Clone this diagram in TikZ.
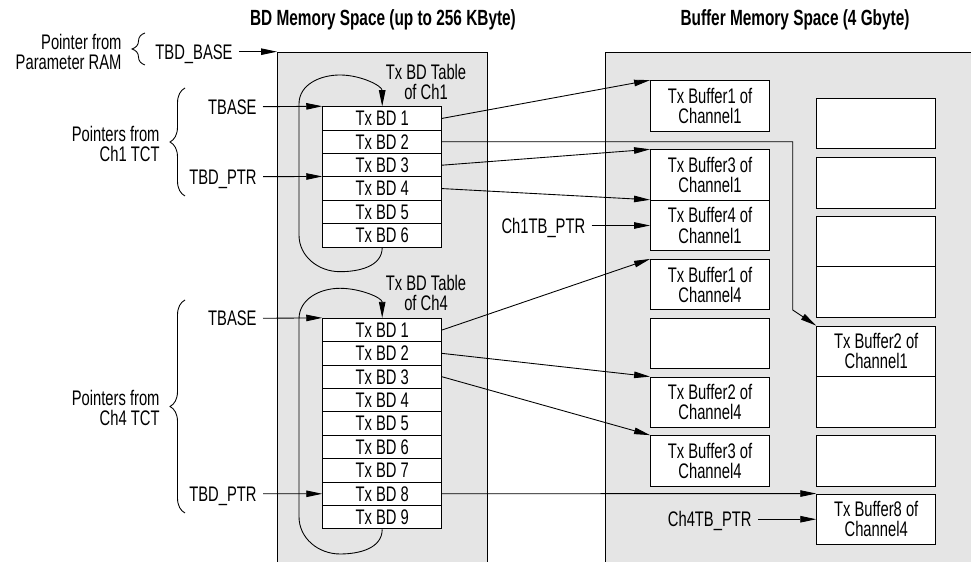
\documentclass[tikz,border=0pt]{standalone}
\usepackage{fontspec}
\setmainfont{Liberation Sans}[FakeStretch=0.7]
\usetikzlibrary{arrows.meta,decorations.pathreplacing}

\begin{document}
\begin{tikzpicture}[
  every node/.style={font=\fontsize{12}{11.4}\selectfont},
  line width=0.5pt,
  ptr/.style={-{Triangle[length=0.32cm,width=0.13cm]}},
  memspace/.style={draw, line width=0.8pt, fill=gray!20, anchor=north west, minimum height=10.6cm, inner sep=0pt},
  spacetitle/.style={font=\bfseries\fontsize{12.5}{12}\selectfont, inner sep=0pt},
  bdrow/.style={draw, fill=white, minimum width=2.38cm, minimum height=0.468cm, inner sep=0pt},
  bufbox/.style={draw, fill=white, minimum width=2.38cm, minimum height=1.01cm, align=center, inner sep=0pt},
  ptrlabel/.style={anchor=east, inner xsep=0.12cm, inner ysep=0pt, text height=8.6pt, text depth=0pt},
  grplabel/.style={anchor=east, align=right, inner sep=0pt},
  tbltitle/.style={align=center, inner sep=0pt},
  grpbrace/.style={decorate, decoration={brace, amplitude=#1}}
]
  \useasboundingbox (0,0) rectangle (19.42,11.24);
  \node[memspace, minimum width=4.194cm] (bdspace) at (5.54,10.206) {};
  \node[memspace, minimum width=8cm] (bufspace) at (12.1,10.206) {};
  \node[spacetitle] (bdtitle) at (7.66,10.84) {BD Memory Space (up to 256 KByte)};
  \node[spacetitle] (buftitle) at (15.9,10.84) {Buffer Memory Space (4 Gbyte)};

  \node[grplabel] (ramlabel) at (2.44,10.2) {Pointer from\\Parameter RAM};
  \draw[grpbrace=0.26cm] (2.9,9.94) -- (2.9,10.58);
  \node[ptrlabel] (tbdbase) at (4.78,10.206) {TBD\_BASE};
  \draw[ptr] (tbdbase.east) -- (bdspace.north west);

  \node[grplabel] (grp1) at (3.2,8.37) {Pointers from\\Ch1 TCT};
  \draw[grpbrace=0.3cm] (3.7,7.32) -- (3.7,9.48);
  \node[ptrlabel] (tbase1) at (5.26,9.106) {TBASE};
  \node[ptrlabel] (tbdptr1) at (5.26,7.706) {TBD\_PTR};
  \foreach \i in {1,...,6}
    \node[bdrow] (c1bd\i) at (7.644,{9.34-0.468*\i}) {Tx BD \i};
  \node[tbltitle] (c1title) at (8.52,9.606) {Tx BD Table\\of Ch1};
  \draw[ptr] (tbase1.east) -- (c1bd1.north west);
  \draw[ptr] (tbdptr1.east) -- (c1bd4.north west);
  \draw[ptr] (c1bd6.south) to[out=-90,in=0] (6.8,5.806) to[out=180,in=-90] (5.98,6.54) -- (5.98,9.16) to[out=90,in=180] (6.8,9.74) to[out=0,in=90] (c1bd1.north);

  \node[grplabel] (grp4) at (3.2,3.09) {Pointers from\\Ch4 TCT};
  \draw[grpbrace=0.3cm] (3.7,0.98) -- (3.7,5.24);
  \node[ptrlabel] (tbase4) at (5.26,4.874) {TBASE};
  \node[ptrlabel] (tbdptr4) at (5.26,1.364) {TBD\_PTR};
  \foreach \i in {1,...,9}
    \node[bdrow] (c4bd\i) at (7.644,{5.108-0.468*\i}) {Tx BD \i};
  \node[tbltitle] (c4title) at (8.52,5.39) {Tx BD Table\\of Ch4};
  \draw[ptr] (tbase4.east) -- (c4bd1.north west);
  \draw[ptr] (tbdptr4.east) -- (c4bd8.west);
  \draw[ptr] (c4bd9.south) to[out=-90,in=0] (6.8,0.16) to[out=180,in=-90] (5.98,0.906) -- (5.98,4.86) to[out=90,in=180] (6.8,5.474) to[out=0,in=90] (c4bd1.north);

  \node[bufbox] (buf1ch1) at (14.2,9.123) {Tx Buffer1 of\\Channel1};
  \node[bufbox] (buf3ch1) at (14.2,7.74) {Tx Buffer3 of\\Channel1};
  \node[bufbox] (buf4ch1) at (14.2,6.73) {Tx Buffer4 of\\Channel1};
  \node[bufbox] (buf1ch4) at (14.2,5.547) {Tx Buffer1 of\\Channel4};
  \node[bufbox] (free1) at (14.2,4.367) {};
  \node[bufbox] (buf2ch4) at (14.2,3.194) {Tx Buffer2 of\\Channel4};
  \node[bufbox] (buf3ch4) at (14.2,2.023) {Tx Buffer3 of\\Channel4};
  \node[bufbox] (free2) at (17.524,8.767) {};
  \node[bufbox] (free3) at (17.524,7.584) {};
  \node[bufbox] (free4) at (17.524,6.407) {};
  \node[bufbox] (free5) at (17.524,5.397) {};
  \node[bufbox] (buf2ch1) at (17.524,4.213) {Tx Buffer2 of\\Channel1};
  \node[bufbox] (free6) at (17.524,3.203) {};
  \node[bufbox] (free7) at (17.524,2.023) {};
  \node[bufbox] (buf8ch4) at (17.524,0.855) {Tx Buffer8 of\\Channel4};
  \node[ptrlabel] (ch1tb) at (11.834,6.73) {Ch1TB\_PTR};
  \node[ptrlabel] (ch4tb) at (15.16,0.855) {Ch4TB\_PTR};

  \coordinate (turn) at (15.854,5.04);
  \draw[ptr] (c1bd1.east) -- (buf1ch1.north west);
  \draw[ptr] (c1bd2.east) -| (turn) -- (buf2ch1.north west);
  \draw[ptr] (c1bd3.east) -- (buf3ch1.north west);
  \draw[ptr] (c1bd4.east) -- (buf4ch1.north west);
  \draw[ptr] (ch1tb.east) -- (buf4ch1.west);
  \draw[ptr] (c4bd1.east) -- (buf1ch4.north west);
  \draw[ptr] (c4bd2.east) -- (buf2ch4.north west);
  \draw[ptr] (c4bd3.east) -- (buf3ch4.north west);
  \draw[ptr] (c4bd8.east) -- (buf8ch4.north west);
  \draw[ptr] (ch4tb.east) -- (buf8ch4.west);
\end{tikzpicture}
\end{document}
